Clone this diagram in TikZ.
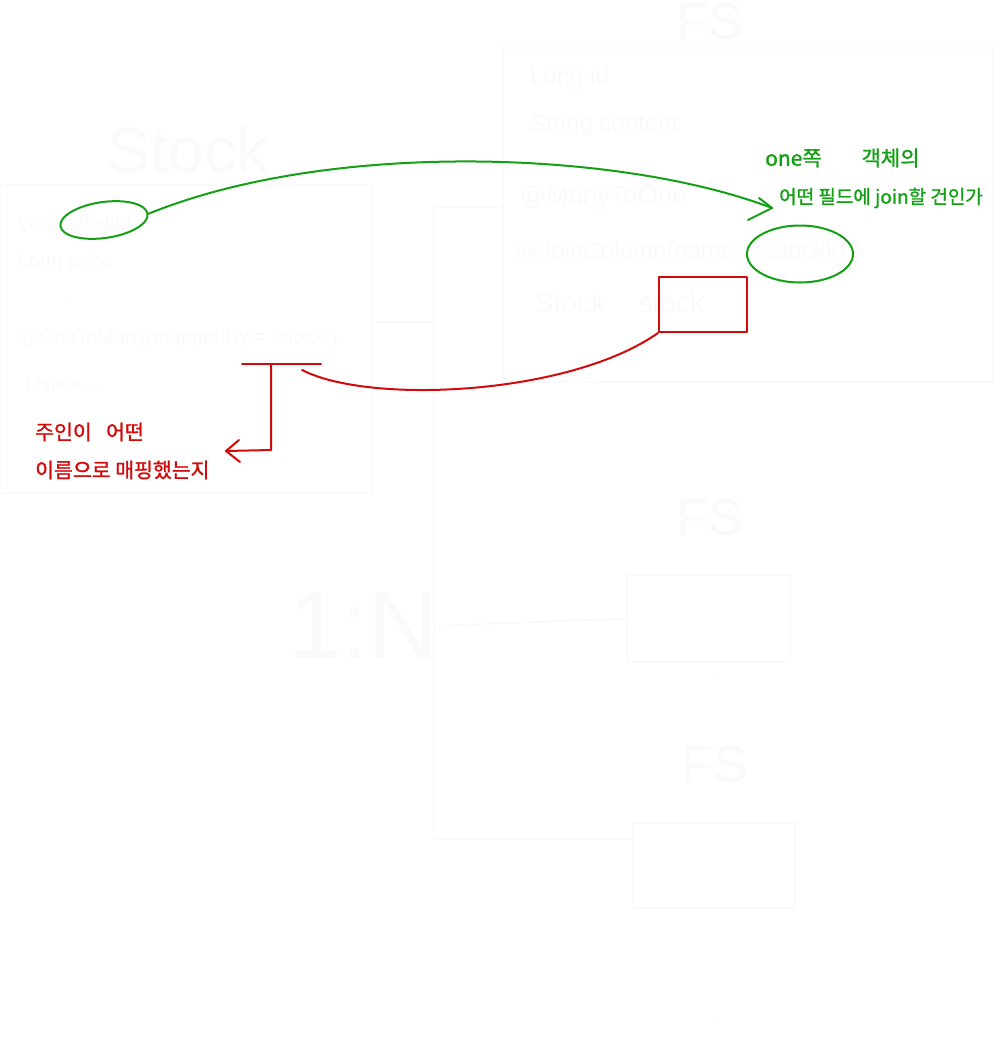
\documentclass[tikz,border=0pt]{standalone}
\usepackage{fontspec}
\setmainfont{Liberation Sans}
\newfontfamily\kr[FakeBold=1.2]{Noto Sans CJK KR}
\usetikzlibrary{shapes.geometric}
\definecolor{faint}{RGB}{250,250,250}
\definecolor{pengreen}{RGB}{20,160,20}
\definecolor{penred}{RGB}{210,10,10}
\tikzset{
  faintbox/.style={draw=faint,line width=1.5pt,rectangle,inner sep=0pt},
  faintline/.style={draw=faint,line width=1.5pt},
  fainttext/.style={text=faint,inner sep=0pt,anchor=west,font=\fontsize{20}{22}\selectfont},
  greenpen/.style={draw=pengreen,line width=2pt,line cap=round,line join=round},
  redpen/.style={draw=penred,line width=2pt,line cap=round,line join=round},
  greentext/.style={text=pengreen,inner sep=0pt,anchor=west,font=\kr\fontsize{21}{23}\selectfont},
  redtext/.style={text=penred,inner sep=0pt,anchor=west,font=\kr\fontsize{20.5}{23}\selectfont},
}
\begin{document}
\begin{tikzpicture}[x=1pt,y=-1pt]
\useasboundingbox[fill=white] (0,0) rectangle (1000,1054);
% ---------- faint (near-white) drawing ----------
\node[faintbox,minimum width=372,minimum height=308] (stockbox) at (186,339) {};
\node[faintbox,minimum width=490,minimum height=334] (fsbox) at (748,215) {};
\node[faintbox,minimum width=163,minimum height=87] (fs2) at (708.5,618.5) {};
\node[faintbox,minimum width=162,minimum height=85] (fs3) at (714,865.5) {};
\node[text=faint,inner sep=0pt,font=\fontsize{64}{64}\selectfont] (stocktitle) at (188,150) {Stock};
\node[text=faint,inner sep=0pt,font=\fontsize{52}{52}\selectfont] (fstitle) at (710,22) {FS};
\node[text=faint,inner sep=0pt,font=\fontsize{52}{52}\selectfont] (fstitle2) at (710,518) {FS};
\node[text=faint,inner sep=0pt,font=\fontsize{52}{52}\selectfont] (fstitle3) at (715,765) {FS};
\node[text=faint,inner sep=0pt,font=\fontsize{96}{96}\selectfont] (onen) at (363,625) {1:N};
\node[fainttext] (l1) at (18,225) {Long stockId};
\node[fainttext] (l2) at (18,262) {Long price};
\node[fainttext,font=\fontsize{12}{12}\selectfont] (l3) at (68,300) {:};
\node[fainttext] (l4) at (18,338) {@OneToMany(mappedBy = "stock")};
\node[fainttext] (l5) at (25,383) {List<> ...};
\node[fainttext,font=\fontsize{24}{26}\selectfont] (r1) at (530,78) {Long id};
\node[fainttext,font=\fontsize{24}{26}\selectfont] (r2) at (530,125) {String content};
\node[fainttext,font=\fontsize{26}{28}\selectfont] (r3) at (520,198) {@ManyToOne};
\node[fainttext,font=\fontsize{24}{26}\selectfont] (r4) at (515,252) {@JoinColumn(name = "stockId")};
\node[fainttext,font=\fontsize{28}{30}\selectfont] (r5) at (535,302) {Stock\hspace{1.2em}stock};
\node[text=faint,inner sep=0pt,font=\fontsize{12}{12}\selectfont] (d1) at (710,440) {:};
\node[text=faint,inner sep=0pt,font=\fontsize{12}{12}\selectfont] (d2) at (713,678) {:};
\node[text=faint,inner sep=0pt,font=\fontsize{12}{12}\selectfont] (d3) at (720,950) {:};
\node[text=faint,inner sep=0pt,font=\fontsize{12}{12}\selectfont] (d4) at (720,1020) {:};
\coordinate (v0) at (434,207);
\coordinate (v1) at (434,322);
\coordinate (v2) at (434,626);
\coordinate (v3) at (434,839);
\draw[faintline] (v0) -- (v3);
\draw[faintline] (v0) -- (v0 -| fsbox.west);
\draw[faintline] (v1) -- (v1 -| stockbox.east);
\draw[faintline] (v2) -- (fs2.west);
\draw[faintline] (v3) -- (v3 -| fs3.west);
% ---------- green annotation ----------
\node[greenpen,ellipse,minimum width=88,minimum height=36,inner sep=0pt,rotate=8] (gl) at (104,220) {};
\node[greenpen,ellipse,minimum width=106,minimum height=57,inner sep=0pt] (gr) at (800,254) {};
\coordinate (gtip) at (772,208);
\draw[greenpen] (gl.east) .. controls (330,140) and (620,150) .. (gtip);
\draw[greenpen] (759,198) -- (gtip) -- (748,220);
\node[greentext] (gt1) at (765,158) {one쪽\hspace{1.9em}객체의};
\node[greentext,font=\kr\fontsize{19}{21}\selectfont] (gt2) at (779,198) {어떤 필드에 join할 건인가};
% ---------- red annotation ----------
\node[redpen,rectangle,minimum width=88,minimum height=55,inner sep=0pt] (rb) at (703,304.5) {};
\coordinate (rend) at (302,370);
\draw[redpen] (rb.south west) .. controls (570,395) and (370,405) .. (rend);
\coordinate (tl) at (242,364);
\coordinate (tr) at (321,364);
\coordinate (tm) at (271,364);
\coordinate (tb) at (271,450);
\coordinate (rtip) at (226,451);
\draw[redpen] (tl) -- (tr);
\draw[redpen] (tm) -- (tb) -- (rtip);
\draw[redpen] (239,440) -- (rtip) -- (240,462);
\node[redtext] (rt1) at (35,432) {주인이\hspace{0.7em}어떤};
\node[redtext] (rt2) at (35,470) {이름으로 매핑했는지};
\end{tikzpicture}
\end{document}
